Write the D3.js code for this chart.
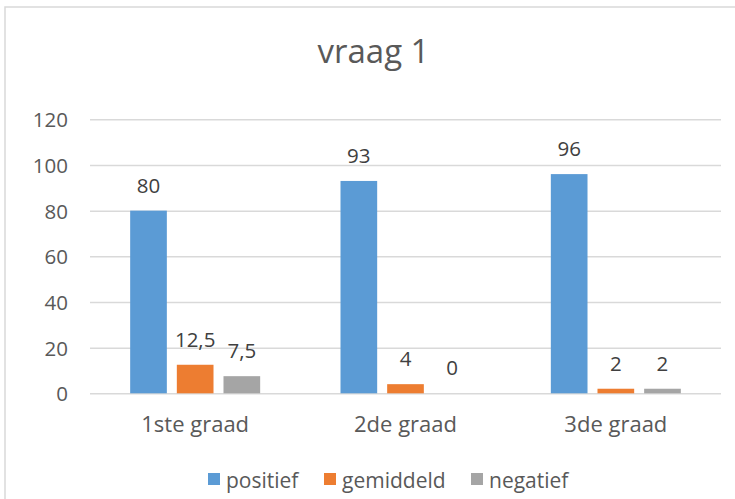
<!DOCTYPE html>
<html>
<head>
<meta charset="utf-8">
<script src="https://d3js.org/d3.v7.min.js"></script>
<style>
body { margin: 0; background: #fff; }
text { font-family: "Open Sans", sans-serif; }
.grid line { stroke: #d9d9d9; stroke-width: 1.5; }
.grid path { stroke-width: 0; }
.axis path, .axis line { fill: none; stroke: none; }
</style>
</head>
<body>
<svg width="735" height="499"></svg>
<script>

var categories = ["1ste graad", "2de graad", "3de graad"];
var seriesNames = ["positief", "gemiddeld", "negatief"];
var positief = [80, 93, 96];
var gemiddeld = [12.5, 4, 2];
var negatief = [7.5, 0, 2];
var yTicks = [0, 20, 40, 60, 80, 100, 120];
var title = "vraag 1";

var values = [positief, gemiddeld, negatief];
var data = categories.map(function(c, i) {
  return { cat: c, vals: seriesNames.map(function(s, j) { return { key: s, value: values[j][i] }; }) };
});

var svg = d3.select("svg"),
    margin = {top: 119.3, right: 14, bottom: 105.7, left: 90},
    width = +svg.attr("width"),
    height = +svg.attr("height");

// chart border (only top and left edges visible)
svg.append("path")
  .attr("d", "M5,499 L5,7 L735,7")
  .attr("fill", "none")
  .attr("stroke", "#d9d9d9")
  .attr("stroke-width", 1.5);

var x0 = d3.scaleBand()
  .domain(categories)
  .range([margin.left, width - margin.right]);

var groupW = 130;
var x1 = d3.scaleBand()
  .domain(seriesNames)
  .range([0, groupW])
  .paddingInner(0.214)
  .paddingOuter(0);

var y = d3.scaleLinear()
  .domain([0, 120])
  .range([height - margin.bottom, margin.top]);

var colors = d3.scaleOrdinal()
  .domain(seriesNames)
  .range(["#5b9bd5", "#ed7d31", "#a5a5a5"]);

svg.append("g")
  .attr("class", "grid")
  .attr("transform", "translate(" + margin.left + ",0)")
  .call(d3.axisLeft(y)
    .tickValues(yTicks)
    .tickFormat("")
    .tickSize(-(width - margin.right - margin.left)));

svg.append("g")
  .attr("class", "axis")
  .style("font-size", "20.5px")
  .attr("transform", "translate(" + (margin.left - 22) + ",0)")
  .call(d3.axisLeft(y).tickValues(yTicks).tickSize(0).tickPadding(0))
  .selectAll("text")
  .attr("fill", "#595959")
  .attr("font-family", "Open Sans")
  .attr("dy", "0.36em");

var groups = svg.append("g")
  .selectAll("g")
  .data(data)
  .enter().append("g")
  .attr("transform", function(d) { return "translate(" + (x0(d.cat) + (x0.bandwidth() - groupW) / 2) + ",0)"; });

groups.selectAll("rect")
  .data(function(d) { return d.vals; })
  .enter().append("rect")
  .attr("x", function(d) { return x1(d.key); })
  .attr("y", function(d) { return y(d.value); })
  .attr("width", x1.bandwidth())
  .attr("height", function(d) { return y(0) - y(d.value); })
  .attr("fill", function(d) { return colors(d.key); });

groups.selectAll("text.lbl")
  .data(function(d) { return d.vals; })
  .enter().append("text")
  .attr("class", "lbl")
  .attr("x", function(d) { return x1(d.key) + x1.bandwidth() / 2; })
  .attr("y", function(d) { return y(d.value) - 18; })
  .attr("text-anchor", "middle")
  .attr("fill", "#404040")
  .style("font-size", "20.5px")
  .text(function(d) { return String(d.value).replace(".", ","); });

svg.append("g")
  .attr("class", "axis")
  .style("font-size", "22px")
  .attr("transform", "translate(0," + (height - margin.bottom) + ")")
  .call(d3.axisBottom(x0).tickSize(0).tickPadding(0))
  .selectAll("text")
  .attr("fill", "#595959")
  .attr("font-family", "Open Sans")
  .attr("dy", "1.75em");

svg.append("text")
  .attr("x", width / 2 + 6)
  .attr("y", 63)
  .attr("text-anchor", "middle")
  .attr("fill", "#595959")
  .style("font-size", "33px")
  .text(title);

var legendX = [208, 324, 471];
var legend = svg.append("g")
  .selectAll("g")
  .data(seriesNames)
  .enter().append("g")
  .attr("transform", function(d, i) { return "translate(" + legendX[i] + ",473)"; });

legend.append("rect")
  .attr("width", 12)
  .attr("height", 12)
  .attr("fill", function(d) { return colors(d); });

legend.append("text")
  .attr("x", 18)
  .attr("y", 15)
  .attr("fill", "#595959")
  .style("font-size", "21px")
  .text(function(d) { return d; });

</script>
</body>
</html>
